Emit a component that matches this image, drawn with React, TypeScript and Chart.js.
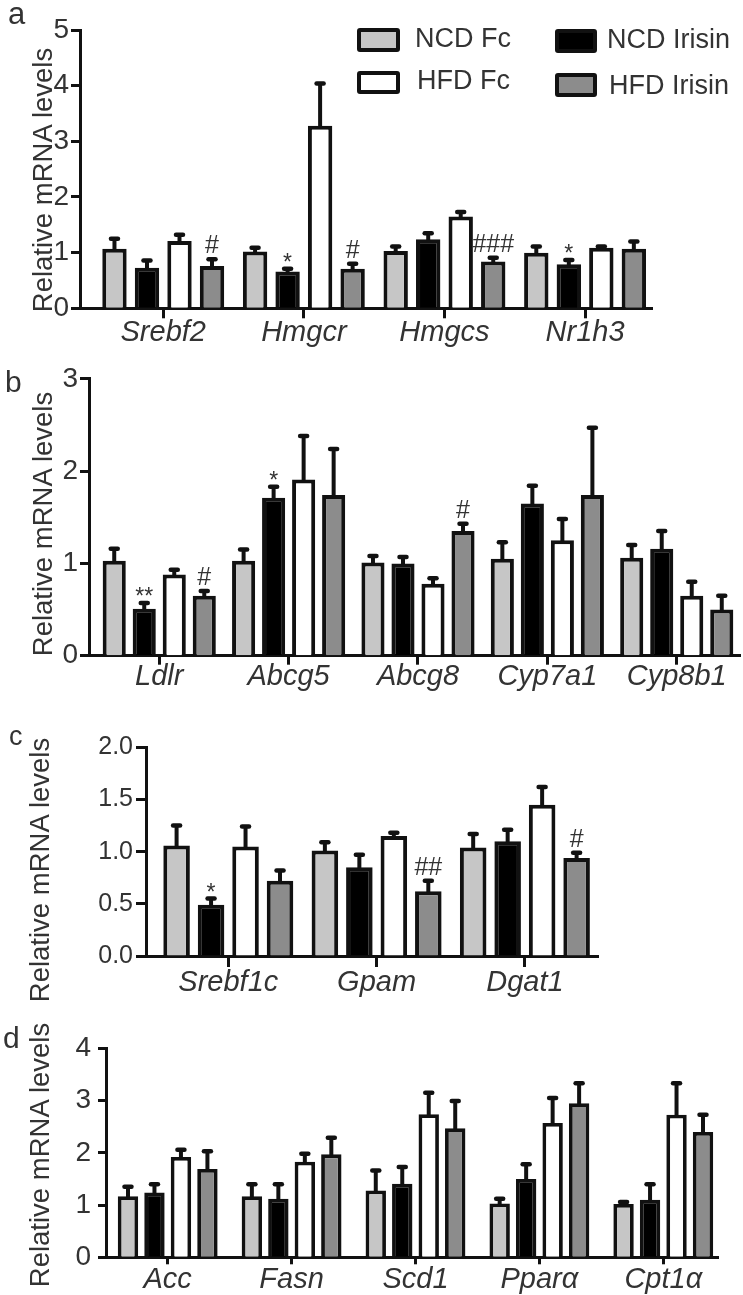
import React, { useEffect, useRef } from 'react';
import { Chart, registerables } from 'chart.js';

Chart.register(...registerables);

const FONT = "'Liberation Sans', Arial, Helvetica, sans-serif";
const SERIES = ['NCD Fc', 'NCD Irisin', 'HFD Fc', 'HFD Irisin'];
const COLORS = ['#c6c6c6', '#000000', '#ffffff', '#8c8c8c'];

// ---- Panel a ----
const aGenes = ['Srebf2', 'Hmgcr', 'Hmgcs', 'Nr1h3'];
const aNcdFc = [1.07, 1.02, 1.03, 1.0];
const aNcdFcSem = [0.18, 0.07, 0.08, 0.11];
const aNcdIrisin = [0.73, 0.66, 1.24, 0.79];
const aNcdIrisinSem = [0.13, 0.05, 0.11, 0.08];
const aHfdFc = [1.21, 3.28, 1.65, 1.09];
const aHfdFcSem = [0.11, 0.76, 0.08, 0.02];
const aHfdIrisin = [0.76, 0.71, 0.84, 1.07];
const aHfdIrisinSem = [0.12, 0.09, 0.07, 0.13];
const aNcdIrisinMarks = ['', '*', '', '*'];
const aHfdIrisinMarks = ['#', '#', '###', ''];
const aYTicks = [0, 1, 2, 3, 4, 5];

// ---- Panel b ----
const bGenes = ['Ldlr', 'Abcg5', 'Abcg8', 'Cyp7a1', 'Cyp8b1'];
const bNcdFc = [1.03, 1.03, 1.01, 1.05, 1.06];
const bNcdFcSem = [0.13, 0.12, 0.07, 0.18, 0.14];
const bNcdIrisin = [0.51, 1.71, 1.0, 1.65, 1.16];
const bNcdIrisinSem = [0.06, 0.12, 0.07, 0.19, 0.19];
const bHfdFc = [0.88, 1.91, 0.78, 1.25, 0.65];
const bHfdFcSem = [0.05, 0.47, 0.06, 0.23, 0.15];
const bHfdIrisin = [0.65, 1.74, 1.35, 1.74, 0.5];
const bHfdIrisinSem = [0.05, 0.5, 0.08, 0.73, 0.15];
const bNcdIrisinMarks = ['**', '*', '', '', ''];
const bHfdIrisinMarks = ['#', '', '#', '', ''];
const bYTicks = [0, 1, 2, 3];

// ---- Panel c ----
const cGenes = ['Srebf1c', 'Gpam', 'Dgat1'];
const cNcdFc = [1.06, 1.01, 1.04];
const cNcdFcSem = [0.19, 0.08, 0.13];
const cNcdIrisin = [0.49, 0.85, 1.1];
const cNcdIrisinSem = [0.06, 0.12, 0.11];
const cHfdFc = [1.05, 1.15, 1.45];
const cHfdFcSem = [0.19, 0.03, 0.17];
const cHfdIrisin = [0.72, 0.62, 0.94];
const cHfdIrisinSem = [0.1, 0.1, 0.05];
const cNcdIrisinMarks = ['*', '', ''];
const cHfdIrisinMarks = ['', '##', '#'];
const cYTicks = [0, 0.5, 1, 1.5, 2];

// ---- Panel d ----
const dGenes = ['Acc', 'Fasn', 'Scd1', 'Pparα', 'Cpt1α'];
const dNcdFc = [1.17, 1.17, 1.28, 1.03, 1.02];
const dNcdFcSem = [0.18, 0.23, 0.38, 0.09, 0.04];
const dNcdIrisin = [1.24, 1.12, 1.41, 1.5, 1.1];
const dNcdIrisinSem = [0.16, 0.28, 0.32, 0.28, 0.3];
const dHfdFc = [1.92, 1.83, 2.74, 2.57, 2.73];
const dHfdFcSem = [0.14, 0.15, 0.41, 0.48, 0.6];
const dHfdIrisin = [1.69, 1.97, 2.47, 2.95, 2.4];
const dHfdIrisinSem = [0.34, 0.32, 0.52, 0.38, 0.33];
const dYTicks = [0, 1, 2, 3, 4];

const noMarks = (n: number) => Array.from({ length: n }, () => '');

type Spec = {
  id: string;
  genes: string[];
  values: number[][];
  sems: number[][];
  marks: string[][];
  yTicks: number[];
  decimals: number;
  top: number;
  height: number;
  axisLeft: number;
  axisRight: number;
  plotTop: number;
  plotBottom: number;
  xMin: number;
  xMax: number;
  yFont: number;
  yTickLen: number;
  yPad: number;
  xTickLen: number;
  xPad: number;
  catPct: number;
  barPct: number;
  borderW: number;
};

const PANELS: Spec[] = [
  {
    id: 'a', genes: aGenes,
    values: [aNcdFc, aNcdIrisin, aHfdFc, aHfdIrisin],
    sems: [aNcdFcSem, aNcdIrisinSem, aHfdFcSem, aHfdIrisinSem],
    marks: [noMarks(4), aNcdIrisinMarks, noMarks(4), aHfdIrisinMarks],
    yTicks: aYTicks, decimals: 0,
    top: 0, height: 360, axisLeft: 80, axisRight: 652, plotTop: 30, plotBottom: 308.3,
    xMin: -0.592, xMax: 3.476, yFont: 28, yTickLen: 9, yPad: 2, xTickLen: 10, xPad: -3,
    catPct: 0.925, barPct: 0.75, borderW: 4,
  },
  {
    id: 'b', genes: bGenes,
    values: [bNcdFc, bNcdIrisin, bHfdFc, bHfdIrisin],
    sems: [bNcdFcSem, bNcdIrisinSem, bHfdFcSem, bHfdIrisinSem],
    marks: [noMarks(5), bNcdIrisinMarks, noMarks(5), bHfdIrisinMarks],
    yTicks: bYTicks, decimals: 0,
    top: 360, height: 345, axisLeft: 89, axisRight: 740, plotTop: 18.3, plotBottom: 295.7,
    xMin: -0.543, xMax: 4.489, yFont: 28, yTickLen: 9, yPad: 2, xTickLen: 9, xPad: -5.5,
    catPct: 0.928, barPct: 0.77, borderW: 4,
  },
  {
    id: 'c', genes: cGenes,
    values: [cNcdFc, cNcdIrisin, cHfdFc, cHfdIrisin],
    sems: [cNcdFcSem, cNcdIrisinSem, cHfdFcSem, cHfdIrisinSem],
    marks: [noMarks(3), cNcdIrisinMarks, noMarks(3), cHfdIrisinMarks],
    yTicks: cYTicks, decimals: 1,
    top: 705, height: 305, axisLeft: 146, axisRight: 598.3, plotTop: 42.3, plotBottom: 251,
    xMin: -0.555, xMax: 2.495, yFont: 25, yTickLen: 10, yPad: 3, xTickLen: 11, xPad: -1,
    catPct: 0.93, barPct: 0.77, borderW: 4,
  },
  {
    id: 'd', genes: dGenes,
    values: [dNcdFc, dNcdIrisin, dHfdFc, dHfdIrisin],
    sems: [dNcdFcSem, dNcdIrisinSem, dHfdFcSem, dHfdIrisinSem],
    marks: [noMarks(5), noMarks(5), noMarks(5), noMarks(5)],
    yTicks: dYTicks, decimals: 0,
    top: 1010, height: 285, axisLeft: 106, axisRight: 718.3, plotTop: 38.3, plotBottom: 247.3,
    xMin: -0.498, xMax: 4.444, yFont: 28, yTickLen: 8, yPad: 7, xTickLen: 7, xPad: -2,
    catPct: 0.855, barPct: 0.77, borderW: 3.8,
  },
];

const errorBarPlugin = {
  id: 'errorBars',
  afterDatasetsDraw(chart: any) {
    const ctx = chart.ctx;
    const ys = chart.scales.y;
    chart.data.datasets.forEach((ds: any, di: number) => {
      const meta = chart.getDatasetMeta(di);
      meta.data.forEach((bar: any, j: number) => {
        const v = ds.data[j].y;
        const e = ds.sem[j];
        const yTop = ys.getPixelForValue(v + e);
        ctx.save();
        ctx.strokeStyle = '#111';
        ctx.lineWidth = 4;
        ctx.lineCap = 'butt';
        ctx.beginPath();
        ctx.moveTo(bar.x, bar.y + 1);
        ctx.lineTo(bar.x, yTop);
        ctx.stroke();
        ctx.lineWidth = 4.5;
        ctx.lineCap = 'round';
        ctx.beginPath();
        ctx.moveTo(bar.x - 3.5, yTop);
        ctx.lineTo(bar.x + 3.5, yTop);
        ctx.stroke();
        const m = ds.marks[j];
        if (m) {
          const star = m.indexOf('*') >= 0;
          ctx.fillStyle = '#333';
          ctx.textAlign = 'center';
          ctx.textBaseline = 'alphabetic';
          ctx.font = `${star ? 23 : 25}px ${FONT}`;
          ctx.fillText(m, bar.x, star ? yTop + 1 : yTop - 6);
        }
        ctx.restore();
      });
    });
  },
};

function Panel({ spec }: { spec: Spec }) {
  const ref = useRef<HTMLCanvasElement | null>(null);
  useEffect(() => {
    const canvas = ref.current;
    if (!canvas) return;
    const yMax = spec.yTicks[spec.yTicks.length - 1];
    const yStep = spec.yTicks[1] - spec.yTicks[0];
    const chart = new Chart(canvas, {
      type: 'bar',
      data: {
        datasets: SERIES.map((name, k) => ({
          label: name,
          data: spec.values[k].map((v, i) => ({ x: i, y: v })),
          backgroundColor: COLORS[k],
          borderColor: '#111',
          borderWidth: spec.borderW,
          borderSkipped: 'start',
          categoryPercentage: spec.catPct,
          barPercentage: spec.barPct,
          sem: spec.sems[k],
          marks: spec.marks[k],
        })) as any,
      },
      options: {
        responsive: false,
        animation: false,
        devicePixelRatio: 1,
        layout: {
          padding: { left: 0, right: 743 - spec.axisRight, top: spec.plotTop, bottom: 0 },
        },
        plugins: { legend: { display: false }, tooltip: { enabled: false }, title: { display: false } },
        scales: {
          x: {
            type: 'linear',
            min: spec.xMin,
            max: spec.xMax,
            bounds: 'data',
            offset: false,
            grid: {
              display: true,
              offset: false,
              drawOnChartArea: false,
              drawTicks: true,
              tickLength: spec.xTickLen,
              tickWidth: 3,
              tickColor: '#111',
            },
            border: { display: true, width: 3, color: '#111' },
            afterBuildTicks: (s: any) => {
              s.ticks = spec.genes.map((_, i) => ({ value: i }));
            },
            afterFit: (s: any) => {
              s.height = spec.height - spec.plotBottom;
            },
            ticks: {
              autoSkip: false,
              maxRotation: 0,
              minRotation: 0,
              padding: spec.xPad,
              color: '#333',
              font: { family: FONT, size: 29, style: 'italic' },
              callback: (_v: any, i: number) => spec.genes[i] ?? '',
            },
          } as any,
          y: {
            min: 0,
            max: yMax,
            grid: {
              display: true,
              drawOnChartArea: false,
              drawTicks: true,
              tickLength: spec.yTickLen,
              tickWidth: 3,
              tickColor: '#111',
            },
            border: { display: true, width: 3, color: '#111' },
            afterFit: (s: any) => {
              s.width = spec.axisLeft;
            },
            ticks: {
              stepSize: yStep,
              padding: spec.yPad,
              color: '#333',
              font: { family: FONT, size: spec.yFont },
              callback: (v: any) => Number(v).toFixed(spec.decimals),
            },
          } as any,
        },
      },
      plugins: [errorBarPlugin],
    });
    return () => chart.destroy();
  }, [spec]);
  return (
    <canvas
      ref={ref}
      width={743}
      height={spec.height}
      style={{ position: 'absolute', left: 0, top: spec.top, width: 743, height: spec.height }}
    />
  );
}

const LETTERS = [
  { t: 'a', left: 8, top: -2, size: 31 },
  { t: 'b', left: 5, top: 367, size: 30 },
  { t: 'c', left: 9, top: 722.5, size: 27 },
  { t: 'd', left: 3, top: 1022.5, size: 30 },
];

const YTITLE = 'Relative mRNA levels';
const TITLES = [
  { cx: 43, cy: 180 },
  { cx: 43, cy: 524 },
  { cx: 40, cy: 870 },
  { cx: 40, cy: 1155 },
];

const LEGEND = [
  { name: SERIES[0], color: COLORS[0], bx: 357, by: 28, bw: 43, bh: 24, tx: 415, tt: 25.4 },
  { name: SERIES[1], color: COLORS[1], bx: 555, by: 29, bw: 42, bh: 24, tx: 607, tt: 26.4 },
  { name: SERIES[2], color: COLORS[2], bx: 357, by: 71, bw: 43, bh: 23, tx: 417, tt: 67.1 },
  { name: SERIES[3], color: COLORS[3], bx: 555, by: 73, bw: 42, bh: 24, tx: 609, tt: 72.1 },
];

export default function App() {
  return (
    <div
      style={{
        position: 'absolute',
        left: 0,
        top: 0,
        width: 743,
        height: 1295,
        background: '#fff',
        overflow: 'hidden',
        fontFamily: FONT,
        color: '#333',
      }}
    >
      {PANELS.map((p) => (
        <Panel key={p.id} spec={p} />
      ))}
      {LETTERS.map((l) => (
        <div
          key={l.t}
          style={{ position: 'absolute', left: l.left, top: l.top, fontSize: l.size, lineHeight: `${l.size}px`, color: '#333' }}
        >
          {l.t}
        </div>
      ))}
      {TITLES.map((t, i) => (
        <div
          key={i}
          style={{
            position: 'absolute',
            left: t.cx,
            top: t.cy,
            fontSize: 27.5,
            lineHeight: '27.5px',
            whiteSpace: 'nowrap',
            color: '#333',
            transform: 'translate(-50%, -50%) rotate(-90deg)',
          }}
        >
          {YTITLE}
        </div>
      ))}
      {LEGEND.map((g) => (
        <React.Fragment key={g.name}>
          <div
            style={{
              position: 'absolute',
              left: g.bx,
              top: g.by,
              width: g.bw,
              height: g.bh,
              boxSizing: 'border-box',
              border: '4px solid #111',
              borderRadius: 3,
              background: g.color,
            }}
          />
          <div
            style={{
              position: 'absolute',
              left: g.tx,
              top: g.tt,
              fontSize: 27,
              lineHeight: '27px',
              whiteSpace: 'nowrap',
              color: '#333',
            }}
          >
            {g.name}
          </div>
        </React.Fragment>
      ))}
    </div>
  );
}
